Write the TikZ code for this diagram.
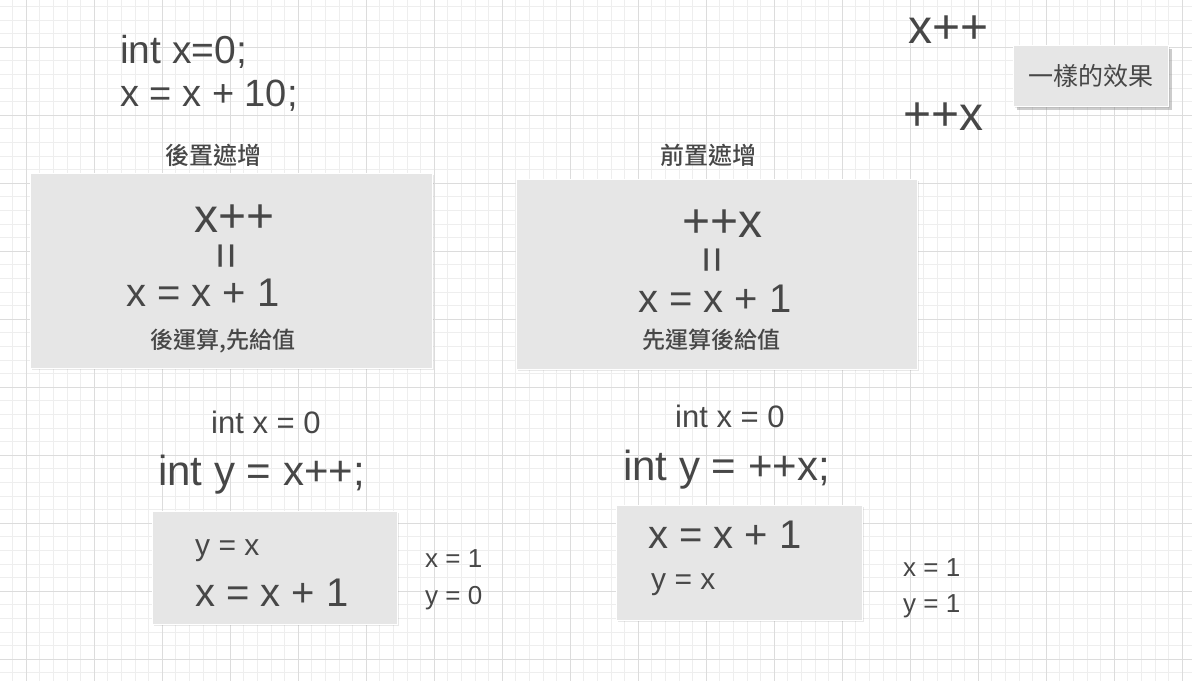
\documentclass[tikz,border=0pt]{standalone}
\usepackage{fontspec}
\setmainfont{Liberation Sans}
\newfontfamily\cjk{Noto Sans CJK TC}[BoldFont={Noto Sans CJK TC Medium}]
\usepackage{tikz}
\usetikzlibrary{shadows}
\definecolor{ink}{HTML}{474747}
\definecolor{boxgray}{HTML}{E6E6E6}
\definecolor{gridminor}{HTML}{EEEEEE}
\definecolor{gridmajor}{HTML}{DCDCDC}
\tikzset{
  codetext/.style={text=ink,inner sep=0pt,anchor=base west,font=\fontsize{#1}{#1}\selectfont},
  cjktext/.style={text=ink,inner sep=0pt,font=\cjk\bfseries\fontsize{#1}{#1}\selectfont},
  eqbar/.style={text=ink,inner sep=0pt,rotate=90,font=\fontsize{46}{46}\selectfont},
  graybox/.style={fill=boxgray,draw=white,line width=1.2pt,anchor=north west,inner sep=0pt,
    drop shadow={shadow xshift=1.5pt,shadow yshift=-1.5pt,opacity=.18}},
}
\begin{document}
\begin{tikzpicture}[x=1pt,y=-1pt]
\useasboundingbox (0,0) rectangle (1192,681);
\fill[white] (0,0) rectangle (1192,681);
\foreach \i in {-1,...,86}{\draw[gridminor,line width=.6pt] ({26+13.6*\i},0)--({26+13.6*\i},681);}
\foreach \j in {-3,...,47}{\draw[gridminor,line width=.6pt] (0,{47+13.6*\j})--(1192,{47+13.6*\j});}
\foreach \i in {0,...,17}{\draw[gridmajor,line width=.8pt] ({26+68*\i},0)--({26+68*\i},681);}
\foreach \j in {0,...,9}{\draw[gridmajor,line width=.8pt] (0,{47+68*\j})--(1192,{47+68*\j});}

\node[codetext=39] (intx) at (120,63) {int x=0;};
\node[codetext=38] (xadd) at (120,106) {x = x + 10;};
\node[codetext=48] (postop) at (908,43) {x++};
\node[codetext=48] (preop) at (903,130) {++x};
\node[graybox,minimum width=155pt,minimum height=61pt,
  drop shadow={shadow xshift=3.5pt,shadow yshift=-3.5pt,opacity=.4}] (samebox) at (1013,45) {};
\node[cjktext=25,font=\cjk\mdseries\fontsize{25}{25}\selectfont] (same) at (samebox.center) {一樣的效果};

\node[cjktext=24] (posttitle) at (213,155) {後置遮增};
\node[graybox,minimum width=402pt,minimum height=195pt] (postbox) at (30,173) {};
\node[codetext=48] (postinc) at (194,232) {x++};
\node[eqbar] (posteq) at (230,256) {=};
\node[codetext=40] (postadd) at (126,306) {x = x + 1};
\node[cjktext=23] (postnote) at (223,341) {後運算,先給值};

\node[cjktext=24] (pretitle) at (708,155) {前置遮增};
\node[graybox,minimum width=401pt,minimum height=190pt] (prebox) at (516,179) {};
\node[codetext=48] (preinc) at (682,237) {++x};
\node[eqbar] (preeq) at (716,260) {=};
\node[codetext=40] (preadd) at (638,312) {x = x + 1};
\node[cjktext=23] (prenote) at (711,340) {先運算後給值};

\node[codetext=31] (postinit) at (211,433) {int x = 0};
\node[codetext=42] (postdecl) at (158,485) {int y = x++;};
\node[graybox,minimum width=245pt,minimum height=113pt] (poststep) at (152,511) {};
\node[codetext=30] (postassign) at (195,555) {y = x};
\node[codetext=40] (postplus) at (195,606) {x = x + 1};
\node[codetext=26] (postx) at (425,567) {x = 1};
\node[codetext=26] (posty) at (425,604) {y = 0};

\node[codetext=31] (preinit) at (675,427) {int x = 0};
\node[codetext=42] (predecl) at (623,480) {int y = ++x;};
\node[graybox,minimum width=246pt,minimum height=115pt] (prestep) at (616,505) {};
\node[codetext=40] (preplus) at (648,548) {x = x + 1};
\node[codetext=30] (preassign) at (651,589) {y = x};
\node[codetext=26] (prex) at (903,576) {x = 1};
\node[codetext=26] (prey) at (903,612) {y = 1};
\end{tikzpicture}
\end{document}
